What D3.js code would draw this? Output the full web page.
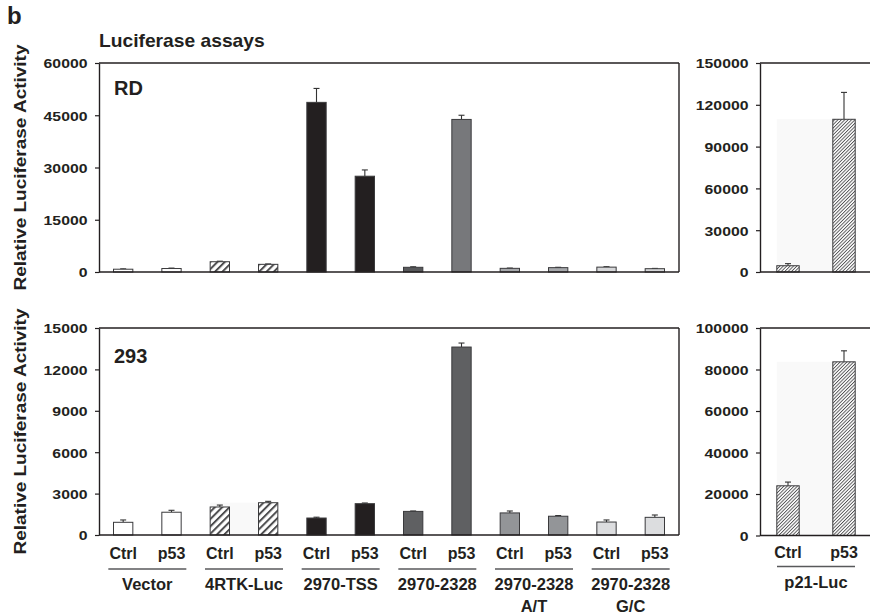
<!DOCTYPE html>
<html>
<head>
<meta charset="utf-8">
<script src="https://cdn.jsdelivr.net/npm/d3@7/dist/d3.min.js"></script>
<style>
  html, body { margin: 0; padding: 0; background: #ffffff; overflow: hidden; }
  svg { display: block; overflow: hidden; }
  text { font-family: "Liberation Sans", Arial, Helvetica, sans-serif; font-weight: bold; fill: #231f20; }
</style>
</head>
<body>
<script>
// ---------------- data ----------------
const conditions = ['Ctrl', 'p53'];
const constructs = ['Vector', '4RTK-Luc', '2970-TSS', '2970-2328', '2970-2328 A/T', '2970-2328 G/C'];
const constructLines = [['Vector'], ['4RTK-Luc'], ['2970-TSS'], ['2970-2328'], ['2970-2328', 'A/T'], ['2970-2328', 'G/C']];

// RD cells (12 bars: construct x condition)
const rdValues = [800, 1000, 2950, 2200, 48700, 27500, 1350, 43800, 1050, 1250, 1400, 950];
const rdErrors = [100, 120, 150, 120, 4000, 1800, 150, 1200, 80, 100, 120, 80];
// 293 cells
const hekValues = [920, 1650, 2030, 2340, 1230, 2270, 1710, 13620, 1600, 1360, 940, 1280];
const hekErrors = [170, 140, 140, 100, 60, 50, 30, 290, 140, 50, 150, 170];

// p21-Luc positive control
const p21Construct = 'p21-Luc';
const p21RdValues = [4500, 109600];
const p21RdErrors = [1500, 19300];
const p21HekValues = [23950, 83700];
const p21HekErrors = [1800, 5300];

// tick labels
const rdTicks = [0, 15000, 30000, 45000, 60000];
const hekTicks = [0, 3000, 6000, 9000, 12000, 15000];
const p21RdTicks = [0, 30000, 60000, 90000, 120000, 150000];
const p21HekTicks = [0, 20000, 40000, 60000, 80000, 100000];

const cellLabels = ['RD', '293'];
const yTitle = 'Relative Luciferase Activity';
const chartTitle = 'Luciferase assays';
const panelLetter = 'b';

// ---------------- styles ----------------
const rdFills = ['#ffffff', '#ffffff', 'url(#hatchWide)', 'url(#hatchWide)', '#231f20', '#231f20',
                 '#58595b', '#77787b', '#a7a9ac', '#a7a9ac', '#d6d7d9', '#d6d7d9'];
const hekFills = ['#ffffff', '#ffffff', 'url(#hatchWide)', 'url(#hatchWide)', '#231f20', '#231f20',
                  '#5f6062', '#5f6062', '#939598', '#939598', '#dcdddf', '#dcdddf'];
const p21Fills = ['url(#hatchFine)', 'url(#hatchFine)'];
const ink = '#231f20';

const W = 870, H = 615;
const svg = d3.select('body').append('svg').attr('width', W).attr('height', H);

// patterns
const defs = svg.append('defs');
const pw = defs.append('pattern').attr('id', 'hatchWide').attr('patternUnits', 'userSpaceOnUse')
  .attr('width', 5.2).attr('height', 5.2).attr('patternTransform', 'rotate(45)');
pw.append('rect').attr('width', 5.2).attr('height', 5.2).attr('fill', '#ffffff');
pw.append('rect').attr('x', 0).attr('width', 2).attr('height', 5.2).attr('fill', '#4d4d4f');
const pf = defs.append('pattern').attr('id', 'hatchFine').attr('patternUnits', 'userSpaceOnUse')
  .attr('width', 2.4).attr('height', 2.4).attr('patternTransform', 'rotate(45)');
pf.append('rect').attr('width', 2.4).attr('height', 2.4).attr('fill', '#ffffff');
pf.append('rect').attr('x', 0).attr('width', 0.9).attr('height', 2.4).attr('fill', '#505052');

function keysFor(names) {
  const out = [];
  names.forEach(n => conditions.forEach(c => out.push(n + '|' + c)));
  return out;
}

function drawPanel(p) {
  const keys = keysFor(p.constructs);
  const x = d3.scaleBand().domain(keys).range([p.x0, p.x1]).paddingInner(0.6).paddingOuter(0.3);
  const y = d3.scaleLinear().domain([0, p.max]).range([p.yBot, p.yTop]);
  const g = svg.append('g');

  // faint background planes behind hatched pairs
  (p.shadows || []).forEach(([a, b]) => {
    const top = Math.max(p.values[a], p.values[b]);
    g.append('rect')
      .attr('x', x(keys[a])).attr('width', x(keys[b]) - x(keys[a]))
      .attr('y', y(top)).attr('height', y(0) - y(top))
      .attr('fill', '#f9f9f9');
  });

  // error bars (upper only)
  const eg = g.append('g').attr('stroke', '#333').attr('stroke-width', 1.1);
  p.values.forEach((v, i) => {
    const cx = x(keys[i]) + x.bandwidth() / 2;
    const yt = y(v + p.errors[i]);
    eg.append('line').attr('x1', cx).attr('x2', cx).attr('y1', y(v)).attr('y2', yt);
    eg.append('line').attr('x1', cx - 3).attr('x2', cx + 3).attr('y1', yt).attr('y2', yt);
  });

  // bars
  g.selectAll('rect.bar').data(p.values).join('rect')
    .attr('class', 'bar')
    .attr('x', (d, i) => x(keys[i]))
    .attr('width', x.bandwidth())
    .attr('y', d => y(d))
    .attr('height', d => y(0) - y(d))
    .attr('fill', (d, i) => p.fills[i])
    .attr('stroke', '#3a3a3c').attr('stroke-width', 1);

  // frame
  const fr = g.append('g').attr('fill', 'none').attr('stroke', ink).attr('stroke-width', 1.4);
  fr.append('line').attr('x1', p.axisX).attr('x2', p.frameRight).attr('y1', p.yTop).attr('y2', p.yTop);
  fr.append('line').attr('x1', p.axisX).attr('x2', p.frameRight).attr('y1', p.yBot).attr('y2', p.yBot);
  if (p.rightBorder) {
    fr.append('line').attr('x1', p.frameRight).attr('x2', p.frameRight).attr('y1', p.yTop).attr('y2', p.yBot);
  }

  // y axis
  const ax = svg.append('g').attr('transform', `translate(${p.axisX},0)`)
    .call(d3.axisLeft(y).tickValues(p.ticks).tickSize(4).tickSizeOuter(0).tickFormat(d3.format('d')));
  ax.select('.domain').attr('stroke', ink).attr('stroke-width', 1.4);
  ax.selectAll('.tick line').attr('stroke', ink).attr('stroke-width', 1.2);
  ax.selectAll('.tick text')
    .attr('x', 0).attr('dy', null)
    .attr('transform', 'translate(-11.5,4.8) scale(1.17,1)')
    .attr('text-anchor', 'end')
    .style('font-size', '13.5px').style('font-weight', 'bold')
    .style('font-family', '"Liberation Sans", Arial, sans-serif').attr('fill', ink);

  return { x, y, keys };
}

function drawCategoryLabels(sc, names, lines, base) {
  const g = svg.append('g');
  sc.keys.forEach(k => {
    const cond = k.split('|')[1];
    g.append('text').attr('x', sc.x(k) + sc.x.bandwidth() / 2).attr('y', base.cond)
      .attr('text-anchor', 'middle').style('font-size', '16px').text(cond);
  });
  names.forEach((n, i) => {
    const a = sc.x(n + '|' + conditions[0]) + sc.x.bandwidth() / 2;
    const b = sc.x(n + '|' + conditions[1]) + sc.x.bandwidth() / 2;
    const c = (a + b) / 2;
    g.append('line').attr('x1', c - 39).attr('x2', c + 39).attr('y1', base.rule).attr('y2', base.rule)
      .attr('stroke', '#58595b').attr('stroke-width', 1.3);
    lines[i].forEach((ln, j) => {
      g.append('text').attr('x', c).attr('y', base.group + j * 21.5)
        .attr('text-anchor', 'middle').style('font-size', '16.5px').text(ln);
    });
  });
}

// ---------------- panels ----------------
const rdMain = drawPanel({
  constructs, values: rdValues, errors: rdErrors, fills: rdFills,
  x0: 99, x1: 679, axisX: 99, frameRight: 679, rightBorder: true,
  yTop: 63, yBot: 272, max: 60000, ticks: rdTicks
});
const rdP21 = drawPanel({
  constructs: [p21Construct], values: p21RdValues, errors: p21RdErrors, fills: p21Fills,
  x0: 760, x1: 872, axisX: 760, frameRight: 870, rightBorder: false,
  yTop: 63, yBot: 272, max: 150000, ticks: p21RdTicks, shadows: [[0, 1]]
});
const hekMain = drawPanel({
  constructs, values: hekValues, errors: hekErrors, fills: hekFills,
  x0: 99, x1: 679, axisX: 99, frameRight: 679, rightBorder: true,
  yTop: 328, yBot: 535, max: 15000, ticks: hekTicks, shadows: [[2, 3]]
});
const hekP21 = drawPanel({
  constructs: [p21Construct], values: p21HekValues, errors: p21HekErrors, fills: p21Fills,
  x0: 760, x1: 872, axisX: 760, frameRight: 870, rightBorder: false,
  yTop: 328, yBot: 535.5, max: 100000, ticks: p21HekTicks, shadows: [[0, 1]]
});

drawCategoryLabels(hekMain, constructs, constructLines, { cond: 559, rule: 569, group: 590 });
drawCategoryLabels(hekP21, [p21Construct], [[p21Construct]], { cond: 558, rule: 566.5, group: 588 });

// ---------------- text ----------------
svg.append('text').attr('x', 7).attr('y', 23.5).style('font-size', '24px').text(panelLetter);
svg.append('text').attr('transform', 'translate(99,47) scale(1.1,1)').style('font-size', '17.5px').text(chartTitle);
svg.append('text').attr('x', 114).attr('y', 95).style('font-size', '20px').text(cellLabels[0]);
svg.append('text').attr('x', 114).attr('y', 363).style('font-size', '20px').text(cellLabels[1]);

[[63, 272], [328, 535]].forEach(([t, b]) => {
  svg.append('text')
    .attr('transform', `translate(25.5,${(t + b) / 2}) rotate(-90) scale(1.15,1)`)
    .attr('text-anchor', 'middle').style('font-size', '16.5px').text(yTitle);
});
</script>
</body>
</html>
